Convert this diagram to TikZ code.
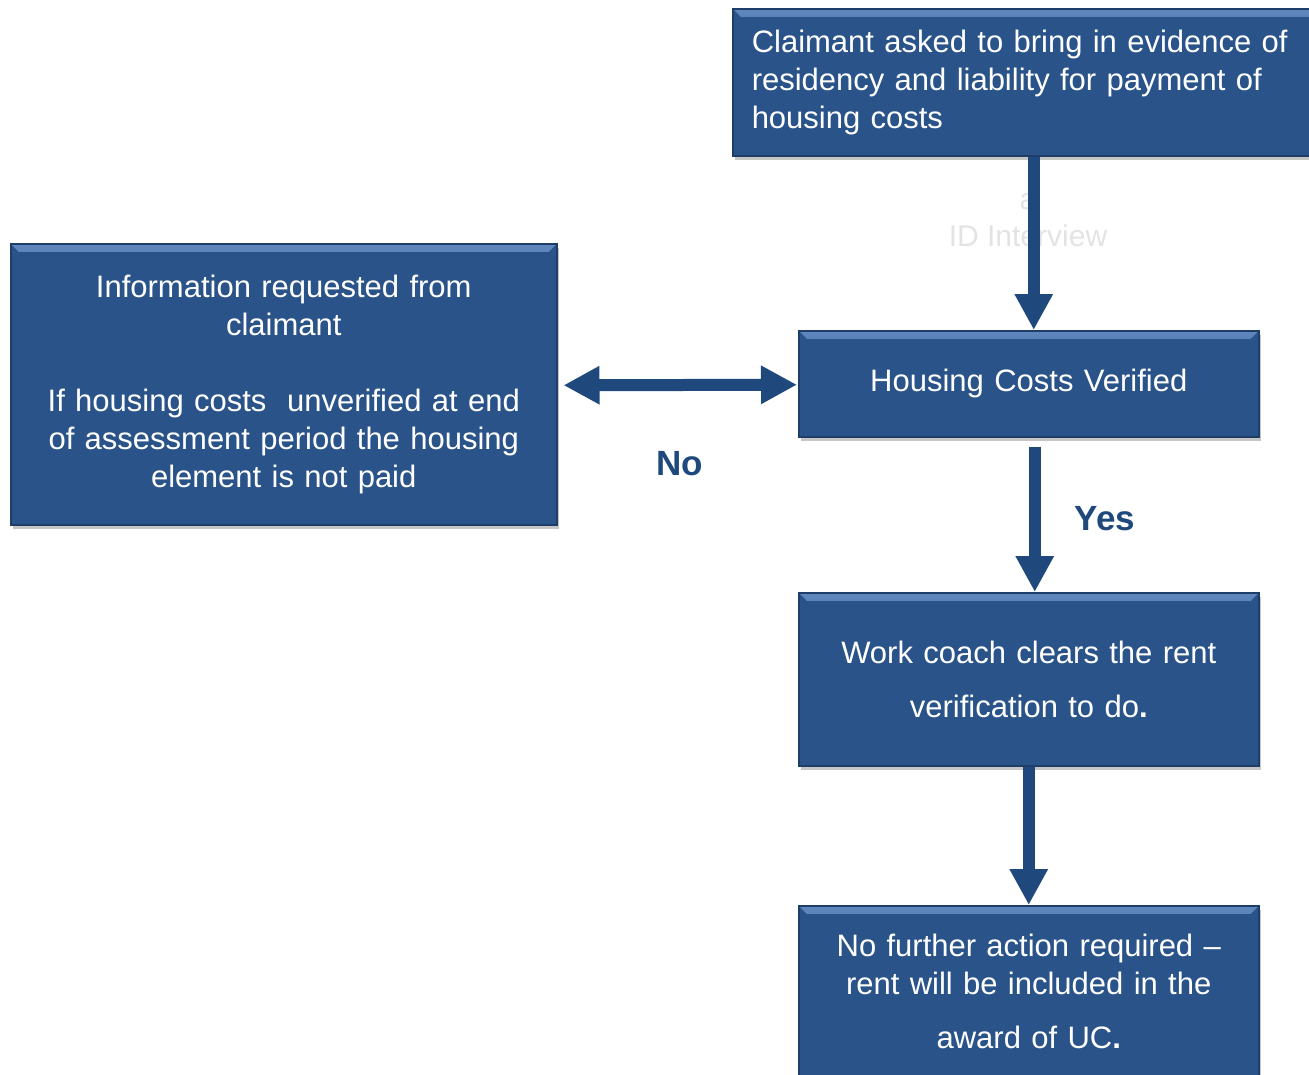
\documentclass[tikz,border=0pt]{standalone}
\usepackage{fontspec}
\setmainfont{Liberation Sans}
\usetikzlibrary{arrows.meta,shadows,calc}
\definecolor{boxfill}{RGB}{41,83,137}
\definecolor{boxedge}{RGB}{30,62,104}
\definecolor{boxlight}{RGB}{95,135,190}
\definecolor{arrcol}{RGB}{31,73,125}
\begin{document}
\begin{tikzpicture}[x=1pt,y=-1pt,
  box/.style={draw=boxedge, line width=1.5pt, fill=boxfill, text=white,
    font=\fontsize{31}{38}\selectfont, inner sep=0pt,
    drop shadow={opacity=0.45, shadow xshift=2pt, shadow yshift=-4pt},
    path picture={\shade[top color=boxlight, bottom color=boxfill]
      (path picture bounding box.north west) -- (path picture bounding box.north east)
      -- ([xshift=-8pt,yshift=-8pt]path picture bounding box.north east)
      -- ([xshift=8pt,yshift=-8pt]path picture bounding box.north west) -- cycle;}},
  arr/.style={draw=arrcol, line width=12pt, -{Triangle[length=36pt,width=36pt]}},
  darr/.style={draw=arrcol, line width=12pt, {Triangle[length=36pt,width=36pt]}-{Triangle[length=36pt,width=36pt]}},
  lbl/.style={text=arrcol, font=\bfseries\fontsize{35}{40}\selectfont}]
\useasboundingbox (0,0) rectangle (1309,1074);
\clip (0,0) rectangle (1309,1074);
% ghost text
\node[text=gray!22, font=\fontsize{30}{37}\selectfont, align=center] (ghost) at (1028,220) {a\\ID Interview};
% boxes
\node[box, anchor=north west, minimum width=600pt, minimum height=147pt,
  text width=600pt, align=left] (top) at (732,8)
  {\hspace*{19pt}Claimant asked to bring in evidence of\\
   \hspace*{19pt}residency and liability for payment of\\
   \hspace*{19pt}housing costs};
\node[box, anchor=north west, minimum width=546pt, minimum height=281pt,
  text width=546pt, align=center] (info) at (10,243)
  {Information requested from\\ claimant\\[38pt]
   If housing costs\ \ unverified at end\\
   of assessment period the housing\\ element is not paid};
\node[box, anchor=north west, minimum width=460pt, minimum height=106pt,
  text width=460pt, align=center] (hcv) at (798,330)
  {Housing Costs Verified};
\node[box, anchor=north west, minimum width=460pt, minimum height=173pt,
  text width=460pt, align=center] (work) at (798,592)
  {Work coach clears the rent\\[16pt] verification to do\textbf{.}};
\node[box, anchor=north west, minimum width=460pt, minimum height=171pt,
  text width=460pt, align=center] (nfa) at (798,905)
  {No further action required --\\ rent will be included in the\\[16pt] award of UC\textbf{.}};
% connectors
\draw[arr] ([xshift=5pt]hcv.north |- top.south) -- ([xshift=5pt]hcv.north);
\draw[darr] ([xshift=6pt,yshift=-1pt]info.east) -- ([xshift=-1pt,yshift=-1pt]hcv.west);
\draw[arr] ([xshift=6pt,yshift=-9pt]hcv.south) -- ([xshift=6pt]work.north);
\draw[arr] (work.south) -- (nfa.north);
% labels
\node[lbl] (no) at (680,464) {No};
\node[lbl] (yes) at (1105,519) {Yes};
\end{tikzpicture}
\end{document}
